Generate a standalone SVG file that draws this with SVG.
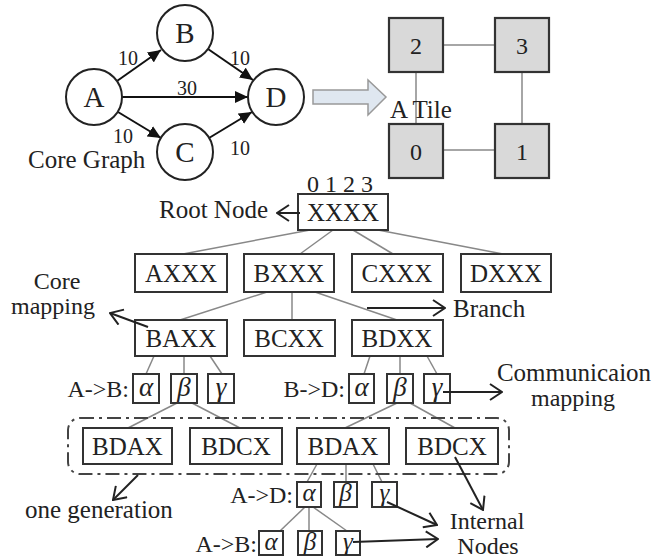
<svg xmlns="http://www.w3.org/2000/svg" width="656" height="560" viewBox="0 0 656 560">
<defs>
<style>
text{font-family:"Liberation Serif","Times New Roman",serif;fill:#222;}
.t{font-size:24px;}
.lbl{font-size:20px;}
.big{font-size:29px;text-anchor:middle;}
.c{text-anchor:middle;}
.e{text-anchor:end;}
.g{font-style:italic;font-size:27px;text-anchor:middle;}
.gs{font-style:italic;font-size:25px;text-anchor:middle;}
.circ{fill:#fff;stroke:#222;stroke-width:2;}
.box{fill:#fff;stroke:#333;stroke-width:2;}
.tile{fill:#d9d9d9;stroke:#333;stroke-width:2.2;}
.edge{stroke:#888;stroke-width:1.5;fill:none;}
.arr{stroke:#111;stroke-width:2;fill:none;marker-end:url(#fa);}
.ann{stroke:#222;stroke-width:2;fill:none;marker-end:url(#oa);}
</style>
<marker id="fa" viewBox="0 0 13 12" refX="13" refY="6" markerWidth="13" markerHeight="12" markerUnits="userSpaceOnUse" orient="auto">
<path d="M0,0 L13,6 L0,12 Z" fill="#111"/>
</marker>
<marker id="oa" viewBox="0 0 14 18" refX="13" refY="9" markerWidth="14" markerHeight="18" markerUnits="userSpaceOnUse" orient="auto">
<path d="M1,1 L13,9 L1,17" fill="none" stroke="#222" stroke-width="2"/>
</marker>
</defs>
<rect width="656" height="560" fill="#fff"/>

<!-- Core graph -->
<g id="core-edges">
<line class="arr" x1="117" y1="81" x2="161" y2="50"/>
<line class="arr" x1="122" y1="97" x2="248" y2="97"/>
<line class="arr" x1="118" y1="112" x2="161" y2="138"/>
<line class="arr" x1="208" y1="49" x2="253" y2="80"/>
<line class="arr" x1="209" y1="138" x2="252" y2="112"/>
<text class="lbl" x="118" y="65">10</text>
<text class="lbl" x="230" y="65">10</text>
<text class="lbl" x="177" y="95">30</text>
<text class="lbl" x="113" y="143">10</text>
<text class="lbl" x="230" y="155">10</text>
</g>
<g id="node-A"><circle class="circ" cx="94" cy="97" r="28"/><text class="big" x="94" y="107">A</text></g>
<g id="node-B"><circle class="circ" cx="185" cy="33" r="28"/><text class="big" x="185" y="43">B</text></g>
<g id="node-C"><circle class="circ" cx="185" cy="152" r="28"/><text class="big" x="185" y="162">C</text></g>
<g id="node-D"><circle class="circ" cx="276" cy="97" r="28"/><text class="big" x="276" y="107">D</text></g>
<text class="t" x="28" y="168" style="font-size:25px">Core Graph</text>

<!-- block arrow -->
<path d="M313,90 L368,90 L368,80 L386,97 L368,115 L368,104 L313,104 Z" fill="#dfe7f0" stroke="#999" stroke-width="1.5"/>

<!-- Tile -->
<g id="tile-links">
<line class="edge" x1="443" y1="45" x2="495" y2="45"/>
<line class="edge" x1="443" y1="150" x2="495" y2="150"/>
<line class="edge" x1="416" y1="72" x2="416" y2="124"/>
<line class="edge" x1="522" y1="72" x2="522" y2="124"/>
</g>
<g id="tile-2"><rect class="tile" x="389" y="18" width="54" height="54"/><text class="t c" x="416" y="54">2</text></g>
<g id="tile-3"><rect class="tile" x="495" y="18" width="54" height="54"/><text class="t c" x="522" y="54">3</text></g>
<g id="tile-0"><rect class="tile" x="389" y="124" width="54" height="54"/><text class="t c" x="416" y="160">0</text></g>
<g id="tile-1"><rect class="tile" x="495" y="124" width="54" height="54"/><text class="t c" x="522" y="160">1</text></g>
<text class="t" x="390" y="118" style="font-size:25px">A Tile</text>

<!-- Tree connectors -->
<g id="tree-edges">
<line class="edge" x1="310" y1="230" x2="183" y2="254"/>
<line class="edge" x1="333" y1="230" x2="300" y2="254"/>
<line class="edge" x1="353" y1="230" x2="393" y2="254"/>
<line class="edge" x1="378" y1="230" x2="503" y2="254"/>
<line class="edge" x1="267" y1="292" x2="180" y2="320"/>
<line class="edge" x1="292" y1="292" x2="292" y2="320"/>
<line class="edge" x1="315" y1="292" x2="397" y2="320"/>
<line class="edge" x1="154" y1="356" x2="146" y2="374"/>
<line class="edge" x1="184" y1="356" x2="184" y2="374"/>
<line class="edge" x1="210" y1="356" x2="222" y2="374"/>
<line class="edge" x1="370" y1="356" x2="364" y2="374"/>
<line class="edge" x1="400" y1="356" x2="400" y2="374"/>
<line class="edge" x1="427" y1="356" x2="437" y2="374"/>
<line class="edge" x1="177" y1="403" x2="128" y2="428"/>
<line class="edge" x1="192" y1="403" x2="240" y2="428"/>
<line class="edge" x1="397" y1="403" x2="345" y2="428"/>
<line class="edge" x1="410" y1="403" x2="455" y2="428"/>
<line class="edge" x1="317" y1="464" x2="307" y2="482"/>
<line class="edge" x1="346" y1="464" x2="346" y2="482"/>
<line class="edge" x1="373" y1="464" x2="382" y2="482"/>
<line class="edge" x1="305" y1="507" x2="280" y2="531"/>
<line class="edge" x1="309" y1="507" x2="309" y2="531"/>
<line class="edge" x1="313" y1="507" x2="347" y2="531"/>
</g>

<!-- generation group -->
<rect x="68" y="418" width="441" height="56" rx="12" fill="none" stroke="#444" stroke-width="2" stroke-dasharray="14,5,3,5"/>

<!-- Tree nodes -->
<text class="t" x="307" y="192">0 1 2 3</text>
<g id="n-XXXX"><rect class="box" x="298" y="194" width="90" height="36"/><text class="t c" x="343" y="221" style="font-size:25px">XXXX</text></g>
<g id="n-AXXX"><rect class="box" x="135" y="254" width="92" height="38"/><text class="t c" x="181" y="282" style="font-size:25px">AXXX</text></g>
<g id="n-BXXX"><rect class="box" x="244" y="254" width="90" height="38"/><text class="t c" x="289" y="282" style="font-size:25px">BXXX</text></g>
<g id="n-CXXX"><rect class="box" x="352" y="254" width="91" height="38"/><text class="t c" x="397" y="282" style="font-size:25px">CXXX</text></g>
<g id="n-DXXX"><rect class="box" x="461" y="254" width="90" height="38"/><text class="t c" x="506" y="282" style="font-size:25px">DXXX</text></g>
<g id="n-BAXX"><rect class="box" x="135" y="320" width="92" height="36"/><text class="t c" x="181" y="347" style="font-size:25px">BAXX</text></g>
<g id="n-BCXX"><rect class="box" x="244" y="320" width="91" height="36"/><text class="t c" x="289" y="347" style="font-size:25px">BCXX</text></g>
<g id="n-BDXX"><rect class="box" x="352" y="320" width="91" height="36"/><text class="t c" x="397" y="347" style="font-size:25px">BDXX</text></g>

<text class="t e" x="129" y="397">A-&gt;B:</text>
<g id="g1-a"><rect class="box" x="133" y="374" width="26" height="29"/><text class="g" x="146" y="396">α</text></g>
<g id="g1-b"><rect class="box" x="171" y="374" width="26" height="29"/><text class="g" x="184" y="396">β</text></g>
<g id="g1-c"><rect class="box" x="208" y="374" width="26" height="29"/><text class="g" x="221" y="396">γ</text></g>

<text class="t e" x="345" y="397">B-&gt;D:</text>
<g id="g2-a"><rect class="box" x="349" y="374" width="25" height="29"/><text class="g" x="361.5" y="396">α</text></g>
<g id="g2-b"><rect class="box" x="387" y="374" width="26" height="29"/><text class="g" x="400" y="396">β</text></g>
<g id="g2-c"><rect class="box" x="424" y="374" width="26" height="29"/><text class="g" x="437" y="396">γ</text></g>

<g id="n-BDAX-1"><rect class="box" x="83" y="428" width="89" height="36"/><text class="t c" x="127.5" y="455" style="font-size:25px">BDAX</text></g>
<g id="n-BDCX-1"><rect class="box" x="190" y="428" width="92" height="36"/><text class="t c" x="236" y="455" style="font-size:25px">BDCX</text></g>
<g id="n-BDAX-2"><rect class="box" x="297" y="428" width="92" height="36"/><text class="t c" x="343" y="455" style="font-size:25px">BDAX</text></g>
<g id="n-BDCX-2"><rect class="box" x="406" y="428" width="92" height="36"/><text class="t c" x="452" y="455" style="font-size:25px">BDCX</text></g>

<text class="t e" x="293" y="503">A-&gt;D:</text>
<g id="g3-a"><rect class="box" x="297" y="482" width="24" height="25"/><text class="gs" x="309" y="501">α</text></g>
<g id="g3-b"><rect class="box" x="334" y="482" width="23" height="25"/><text class="gs" x="345.5" y="501">β</text></g>
<g id="g3-c"><rect class="box" x="372" y="482" width="25" height="25"/><text class="gs" x="384.5" y="501">γ</text></g>

<text class="t e" x="257" y="552">A-&gt;B:</text>
<g id="g4-a"><rect class="box" x="259" y="531" width="24" height="24"/><text class="gs" x="271" y="550">α</text></g>
<g id="g4-b"><rect class="box" x="298" y="531" width="24" height="24"/><text class="gs" x="310" y="550">β</text></g>
<g id="g4-c"><rect class="box" x="336" y="531" width="24" height="24"/><text class="gs" x="348" y="550">γ</text></g>

<!-- annotations -->
<g id="annotations">
<line class="ann" x1="300" y1="213" x2="277" y2="213"/>
<line class="ann" x1="148" y1="327" x2="110" y2="313"/>
<line class="ann" x1="367" y1="308" x2="445" y2="308"/>
<line class="ann" x1="443" y1="392" x2="502" y2="392"/>
<line class="ann" x1="138" y1="475" x2="113" y2="500"/>
<line class="ann" x1="455" y1="457" x2="483" y2="510"/>
<line class="ann" x1="387" y1="502" x2="437" y2="525"/>
<line class="ann" x1="353" y1="542" x2="438" y2="539"/>
</g>
<text class="t" x="159" y="218" style="font-size:25px">Root Node</text>
<text class="t c" x="57" y="289">Core</text>
<text class="t c" x="53" y="314">mapping</text>
<text class="t" x="453" y="317" style="font-size:25px">Branch</text>
<text class="t c" x="574" y="381" style="font-size:25px">Communicaion</text>
<text class="t c" x="573" y="406">mapping</text>
<text class="t" x="25" y="518" style="font-size:25px">one generation</text>
<text class="t c" x="487" y="529">Internal</text>
<text class="t c" x="488" y="554">Nodes</text>
</svg>
